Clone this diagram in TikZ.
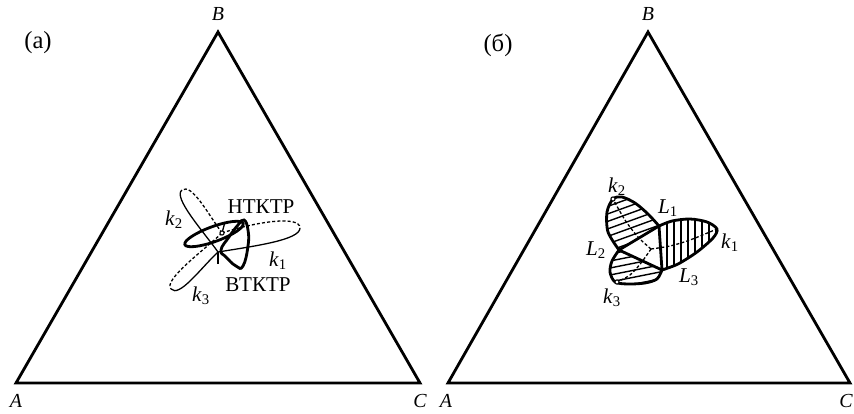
\documentclass[tikz,border=0pt]{standalone}
\usepackage{fontspec}
\setmainfont{Liberation Serif}
\usepackage{tikz}
\usetikzlibrary{positioning, calc}

\newcommand{\kk}[1]{\textit{k}\textsubscript{#1}}
\newcommand{\LL}[1]{\textit{L}\textsubscript{#1}}

\begin{document}
\begin{tikzpicture}[
    x=0.03cm, y=-0.03cm,
    font=\fontsize{18}{21}\selectfont,
    triside/.style={line width=2.4pt, line join=miter},
    thincurve/.style={line width=1.1pt},
    thickcurve/.style={line width=2.4pt},
    dashcurve/.style={line width=1.1pt, dash pattern=on 2.6pt off 1.8pt},
    hatchline/.style={line width=1.2pt},
    critpoint/.style={circle, draw, fill=white, inner sep=0pt, minimum size=3.6pt, line width=0.9pt},
    txt/.style={inner sep=0pt},
    vertex/.style={inner sep=0pt, font=\fontsize{17}{20}\selectfont\itshape},
    panel/.style={inner sep=0pt, font=\fontsize{21}{24}\selectfont}
]

\useasboundingbox (0,0) rectangle (854,413);

%% LEFT TRIANGLE (a) %%
\coordinate (A_left) at (16,383);
\coordinate (B_left) at (218,32);
\coordinate (C_left) at (420,383);
\draw [triside] (A_left) -- (B_left) -- (C_left) -- cycle;

\node (label_a) [panel] at (38,43) {(а)};
\node (A_left_lbl) [vertex] at (16,401) {A};
\node (B_left_lbl) [vertex] at (218,14) {B};
\node (C_left_lbl) [vertex] at (420,401) {C};

% critical points
\coordinate (ntktr_pt) at (222,233);
\coordinate (vtktr_pt) at (218,252);

% petal k1
\draw [dashcurve] (ntktr_pt) .. controls (255,222) and (300,215) .. (300,228);
\draw [thincurve] (300,228) .. controls (300,240) and (255,246) .. (vtktr_pt);
% petal k2
\draw [dashcurve] (ntktr_pt) .. controls (207.5,213) and (191.7,183) .. (182,190);
\draw [thincurve] (182,190) .. controls (172.3,197) and (203.5,231.7) .. (vtktr_pt);
% petal k3
\draw [dashcurve] (ntktr_pt) .. controls (203.8,250.3) and (162.7,280.2) .. (171,289);
\draw [thincurve] (171,289) .. controls (179.3,297.8) and (199.8,269.3) .. (vtktr_pt);

% thick loops
\draw [thickcurve, rotate around={20:(214,234)}] (214,234) ellipse [x radius=31, y radius=7.5];
\draw [thickcurve] plot[smooth cycle, tension=0.8] coordinates {(244,220) (248,230) (248,246) (243,266) (236,266) (226,257) (221,250) (229,237) (238,225)};

\draw [thincurve] (vtktr_pt) -- ++(0,12);
\draw [thincurve] (ntktr_pt) -- ++(3,-11);
\node (ntktr_dot) [critpoint] at (ntktr_pt) {};

\node (ntktr_lbl) [txt] at (261,207) {НТКТР};
\node (vtktr_lbl) [txt] at (258,285) {ВТКТР};
\node (k1_left) [txt] at (278,261) {\kk{1}};
\node (k2_left) [txt] at (174,220) {\kk{2}};
\node (k3_left) [txt] at (201,296) {\kk{3}};

%% RIGHT TRIANGLE (b) %%
\coordinate (A_right) at (448,383);
\coordinate (B_right) at (648,32);
\coordinate (C_right) at (850,383);
\draw [triside] (A_right) -- (B_right) -- (C_right) -- cycle;

\node (label_b) [panel] at (498,45) {(б)};
\node (A_right_lbl) [vertex] at (446,401) {A};
\node (B_right_lbl) [vertex] at (648,14) {B};
\node (C_right_lbl) [vertex] at (846,401) {C};

% hatching of the three lobes
\begin{scope}
    \clip plot[smooth] coordinates {(659,226) (648,214) (635,203) (622,197) (613,199) (607,212) (608,232) (619,250)} -- cycle;
    \foreach \yy in {196,203.5,...,290}
        \draw [hatchline] (595,\yy) -- (675,\yy-29);
\end{scope}
\begin{scope}
    \clip plot[smooth] coordinates {(659,226) (672,221) (690,219) (707,222) (717,229) (713,238) (697,252) (678,264) (662,270)} -- cycle;
    \foreach \xx in {667,674,...,717}
        \draw [hatchline] (\xx,210) -- (\xx,280);
\end{scope}
\begin{scope}
    \clip plot[smooth] coordinates {(662,270) (657,279) (645,283) (628,284) (615,282) (610,272) (612,261) (619,250)} -- cycle;
    \foreach \yy in {256,263,...,305}
        \draw [hatchline] (600,\yy) -- (670,\yy-14);
\end{scope}

% dashed critical lines
\coordinate (mid_pt) at (651,249);
\draw [dashcurve] plot[smooth] coordinates {(mid_pt) (670,246) (690,240) (717,229)};
\draw [dashcurve] plot[smooth] coordinates {(mid_pt) (638,237) (625,220) (613,199)};
\draw [dashcurve] plot[smooth] coordinates {(mid_pt) (641,263) (630,275) (617,282)};

% lobe outlines
\draw [thickcurve] plot[smooth] coordinates {(659,226) (648,214) (635,203) (622,197) (613,199) (607,212) (608,232) (619,250)} -- cycle;
\draw [thickcurve] plot[smooth] coordinates {(659,226) (672,221) (690,219) (707,222) (717,229) (713,238) (697,252) (678,264) (662,270)} -- cycle;
\draw [thickcurve] plot[smooth] coordinates {(662,270) (657,279) (645,283) (628,284) (615,282) (610,272) (612,261) (619,250)} -- cycle;

\node (k2_tip) [critpoint] at (613,199) {};
\node (k3_tip) [critpoint] at (617,282) {};

\node (k2_right) [txt] at (617,187) {\kk{2}};
\node (k1_right) [txt] at (730,243) {\kk{1}};
\node (k3_right) [txt] at (612,298) {\kk{3}};
\node (L1_lbl) [txt] at (668,208) {\LL{1}};
\node (L2_lbl) [txt] at (596,250) {\LL{2}};
\node (L3_lbl) [txt] at (689,277) {\LL{3}};

\end{tikzpicture}
\end{document}
